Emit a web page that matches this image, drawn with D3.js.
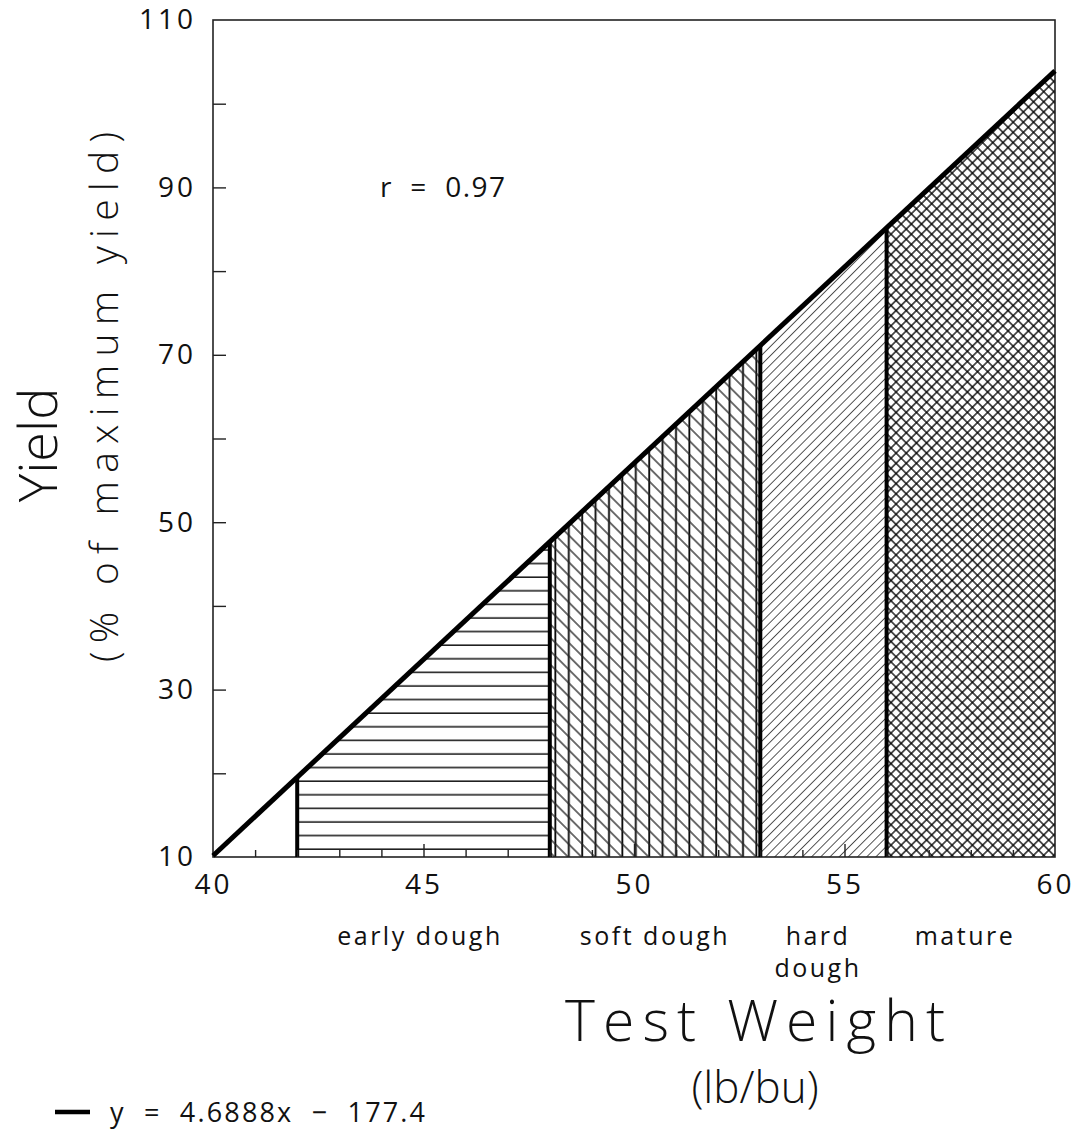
<!DOCTYPE html>
<html>
<head>
<meta charset="utf-8">
<script src="https://cdn.jsdelivr.net/npm/d3@7"></script>
<style>
  body { margin: 0; background: #fff; }
  svg text { font-family: "Open Sans", "DejaVu Sans", sans-serif; fill: #111; white-space: pre; }
</style>
</head>
<body>
<svg id="chart"></svg>
<script>
const xTicks = [40, 45, 50, 55, 60];
const xMinor = [41, 42, 43, 44, 46, 47, 48, 49, 51, 52, 53, 54, 56, 57, 58, 59];
const yTicks = [10, 30, 50, 70, 90, 110];
const yMinor = [20, 30, 40, 50, 60, 70, 80, 90, 100];
const stages = ["early dough", "soft dough", "hard dough", "mature"];
const stageStart = [42, 48, 53, 56];
const stageEnd = [48, 53, 56, 60];
const slope = 4.6888, intercept = -177.4, rValue = 0.97;

const width = 1078, height = 1142;
const svg = d3.select("#chart").attr("width", width).attr("height", height);

const x = d3.scaleLinear().domain([40, 60]).range([213, 1055]);
const y = d3.scaleLinear().domain([10, 110]).range([857, 20]);
const fit = v => slope * v + intercept;

// hatch patterns
const defs = svg.append("defs");
const pat = (id, size, rot) => defs.append("pattern")
  .attr("id", id).attr("patternUnits", "userSpaceOnUse")
  .attr("width", size).attr("height", size)
  .attr("patternTransform", rot ? `rotate(${rot})` : null);

const pH = pat("hatchH", 13.6, 0);
pH.append("line").attr("x1", 0).attr("x2", 13.6).attr("y1", 6).attr("y2", 6)
  .attr("stroke", "#111").attr("stroke-width", 1.5);

const pS1 = pat("hatchV", 13.4, 0);
pS1.append("line").attr("x1", 6).attr("x2", 6).attr("y1", 0).attr("y2", 13.4)
  .attr("stroke", "#000").attr("stroke-width", 1.8);
const pS2 = pat("hatchBack", 9.5, 45);
pS2.append("line").attr("x1", 0).attr("x2", 9.5).attr("y1", 4.75).attr("y2", 4.75)
  .attr("stroke", "#222").attr("stroke-width", 1.3);

const pD = pat("hatchFwd", 6.5, -45);
pD.append("line").attr("x1", 0).attr("x2", 6.5).attr("y1", 3.25).attr("y2", 3.25)
  .attr("stroke", "#444").attr("stroke-width", 0.9);

const pX = pat("hatchX", 7.2, 45);
pX.append("line").attr("x1", 0).attr("x2", 7.2).attr("y1", 3.6).attr("y2", 3.6)
  .attr("stroke", "#000").attr("stroke-width", 1.3);
pX.append("line").attr("x1", 3.6).attr("x2", 3.6).attr("y1", 0).attr("y2", 7.2)
  .attr("stroke", "#000").attr("stroke-width", 1.3);

const fills = [["hatchH"], ["hatchV", "hatchBack"], ["hatchFwd"], ["hatchX"]];

const area = (a, b) => [[x(a), y(10)], [x(a), y(fit(a))], [x(b), y(fit(b))], [x(b), y(10)]];

stages.forEach((s, i) => {
  fills[i].forEach(f => {
    svg.append("polygon")
      .attr("points", area(stageStart[i], stageEnd[i]).map(p => p.join(",")).join(" "))
      .attr("fill", `url(#${f})`);
  });
});

// frame
svg.append("rect")
  .attr("x", x(40)).attr("y", y(110))
  .attr("width", x(60) - x(40)).attr("height", y(10) - y(110))
  .attr("fill", "none").attr("stroke", "#222").attr("stroke-width", 1.6);

// stage boundaries
svg.selectAll(".bound").data(stageStart).join("line")
  .attr("x1", d => x(d)).attr("x2", d => x(d))
  .attr("y1", y(10)).attr("y2", d => y(fit(d)))
  .attr("stroke", "#000").attr("stroke-width", 4);

// regression line
svg.append("path")
  .datum([40, 60])
  .attr("d", d3.line().x(d => x(d)).y(d => y(fit(d))))
  .attr("stroke", "#000").attr("stroke-width", 5).attr("fill", "none");

// axes ticks (inward)
const gx = svg.append("g").attr("transform", `translate(0,${y(10)})`);
gx.call(d3.axisBottom(x).tickValues(xMinor).tickSize(-7).tickFormat(""));
gx.append("g").call(d3.axisBottom(x).tickValues([45, 50, 55]).tickSize(-13).tickFormat(""));
gx.append("g").call(d3.axisBottom(x).tickValues(xTicks).tickSize(0).tickPadding(17));
gx.selectAll(".domain").remove();
gx.selectAll("line").attr("stroke", "#222").attr("stroke-width", 1.4);
gx.selectAll("text").attr("font-size", 28).attr("letter-spacing", 3).attr("fill", "#111");

const gy = svg.append("g").attr("transform", `translate(${x(40)},0)`);
gy.call(d3.axisLeft(y).tickValues(yMinor).tickSize(-13).tickFormat(""));
gy.append("g").call(d3.axisLeft(y).tickValues(yTicks).tickSize(0).tickPadding(17));
gy.selectAll(".domain").remove();
gy.selectAll("line").attr("stroke", "#222").attr("stroke-width", 1.4);
gy.selectAll("text").attr("font-size", 28).attr("letter-spacing", 3).attr("fill", "#111");

// stage labels
const stageLabelX = [420, 655, 818, 965];
stages.forEach((s, i) => {
  const parts = s === "hard dough" ? ["hard", "dough"] : [s];
  parts.forEach((p, j) => {
    svg.append("text")
      .attr("x", stageLabelX[i]).attr("y", 945 + j * 32)
      .attr("text-anchor", "middle").attr("font-size", 25).attr("letter-spacing", 2.5)
      .text(p);
  });
});

// r value
svg.append("text").attr("x", 380).attr("y", 197).attr("font-size", 28)
  .attr("textLength", 125).attr("lengthAdjust", "spacing")
  .text(`r  =  ${rValue}`);

// axis titles
svg.append("text").attr("x", 565).attr("y", 1041)
  .attr("font-size", 57).attr("font-weight", 300)
  .attr("textLength", 380).attr("lengthAdjust", "spacing").text("Test Weight");
svg.append("text").attr("x", 755).attr("y", 1103).attr("text-anchor", "middle")
  .attr("font-size", 44).attr("font-weight", 300).text("(lb/bu)");

svg.append("text").attr("transform", "translate(57,445) rotate(-90)")
  .attr("text-anchor", "middle").attr("font-size", 54).attr("font-weight", 300).text("Yield");
svg.append("text").attr("transform", "translate(118,662) rotate(-90)")
  .attr("font-size", 39).attr("font-weight", 300)
  .attr("textLength", 530).attr("lengthAdjust", "spacing").text("(% of maximum yield)");

// legend
svg.append("line").attr("x1", 55).attr("x2", 90).attr("y1", 1112).attr("y2", 1112)
  .attr("stroke", "#000").attr("stroke-width", 4.5);
svg.append("text").attr("x", 110).attr("y", 1122).attr("font-size", 27)
  .attr("textLength", 315).attr("lengthAdjust", "spacing")
  .text(`y  =  ${slope}x  −  ${Math.abs(intercept)}`);
</script>
</body>
</html>
